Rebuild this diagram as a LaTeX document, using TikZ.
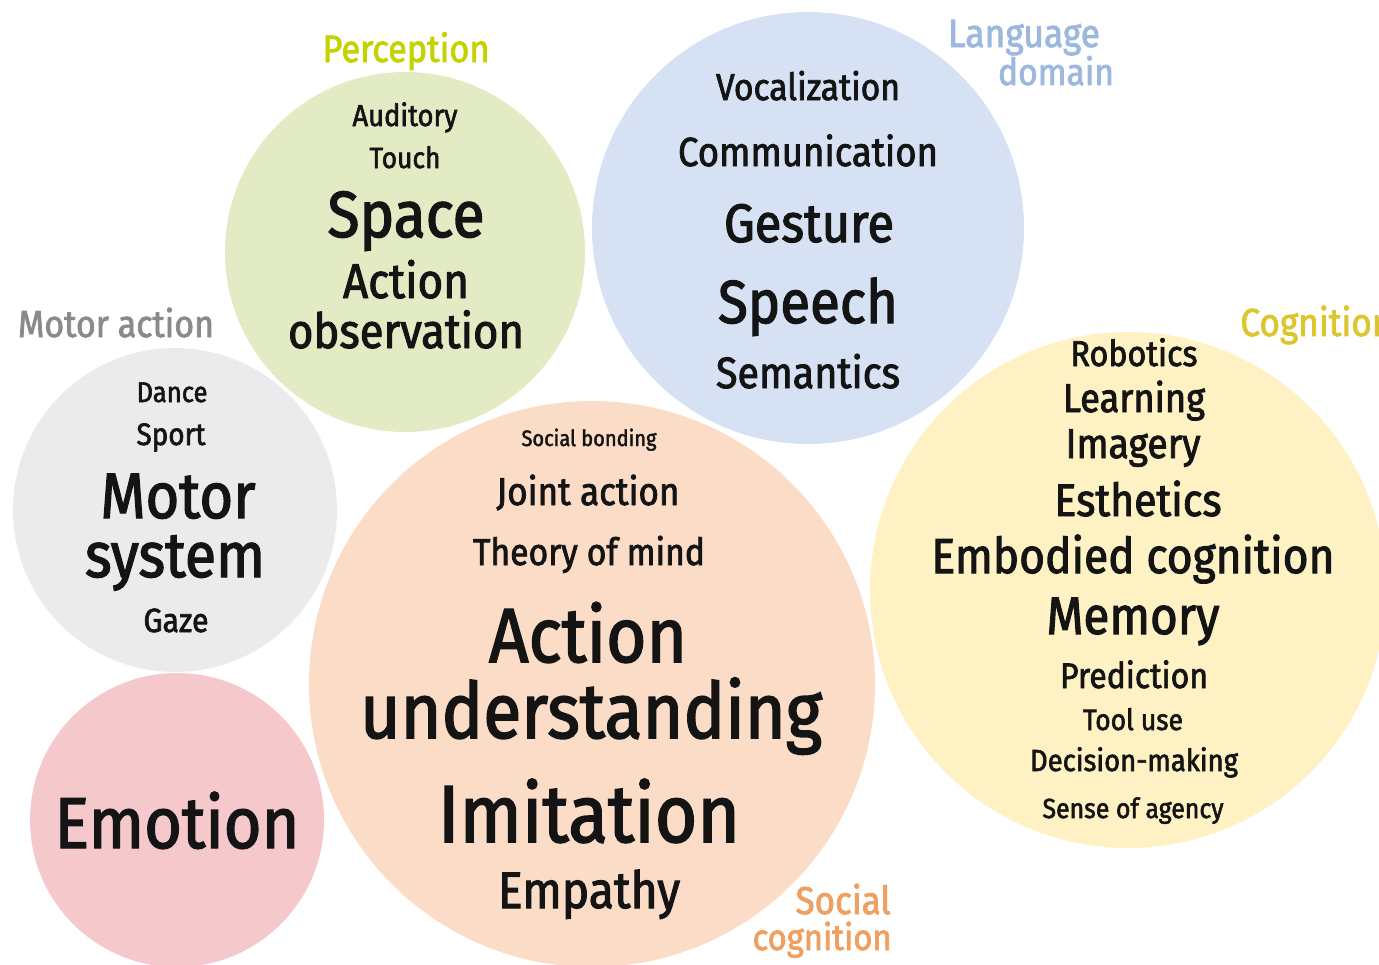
\documentclass[tikz,border=0pt]{standalone}
\usepackage{fontspec}
\setmainfont{Fira Sans}[FakeStretch=0.9, FakeBold=2]

% colours of the bubbles and of their domain labels
\definecolor{percfill}{HTML}{E3EBC4}
\definecolor{perclab}{HTML}{C4D300}
\definecolor{langfill}{HTML}{D6E2F3}
\definecolor{langlab}{HTML}{9DB8DE}
\definecolor{motorfill}{HTML}{EBEBEB}
\definecolor{motorlab}{HTML}{8A8A8A}
\definecolor{emofill}{HTML}{F5C8CC}
\definecolor{socfill}{HTML}{FBDCC6}
\definecolor{soclab}{HTML}{EFA060}
\definecolor{cogfill}{HTML}{FEF2C4}
\definecolor{coglab}{HTML}{DCC62E}
\definecolor{ink}{HTML}{141414}

% set a word at the font size that gives it the wanted width (in drawing units)
\newlength\fitlen
\newcommand\fitw[2]{%
  \settowidth\fitlen{\fontsize{10pt}{12pt}\selectfont #2}%
  \pgfmathsetmacro\fitfs{5*#1/\fitlen}%
  \fontsize{\fitfs pt}{\fitfs pt}\selectfont #2}

\tikzset{
  bub/.style={circle, draw=none, inner sep=0pt},
  word/.style={anchor=base, inner sep=0pt, text=ink},
  tag/.style={anchor=base, inner sep=0pt},
}

\begin{document}
\begin{tikzpicture}[x=0.5pt, y=-0.5pt]
\useasboundingbox (0,0) rectangle (1379,964);
\clip (0,0) rectangle (1379,964);

% bubbles
\node[bub, fill=percfill,  minimum size=180pt] (perc)  at (405,252)  {};
\node[bub, fill=langfill,  minimum size=216pt] (lang)  at (808,228)  {};
\node[bub, fill=motorfill, minimum size=162pt] (motor) at (175,510)  {};
\node[bub, fill=emofill,   minimum size=147pt] (emo)   at (177,820)  {};
\node[bub, fill=socfill,   minimum size=283pt] (soc)   at (592,684)  {};
\node[bub, fill=cogfill,   minimum size=258pt] (cog)   at (1128,590) {};

% perception
\node[tag, text=perclab] (perclabel) at (406,62) {\fitw{167}{Perception}};
\node[word] (auditory) at (405,126) {\fitw{105}{Auditory}};
\node[word] (touch)    at (405,168) {\fitw{71}{Touch}};
\node[word] (space)    at (406,237) {\fitw{157}{Space}};
\node[word] (actobs1)  at (406,298) {\fitw{126}{Action}};
\node[word] (actobs2)  at (406,348) {\fitw{236}{observation}};

% language domain
\node[tag, text=langlab] (langlabel1) at (1024,47) {\fitw{152}{Language}};
\node[tag, text=langlab] (langlabel2) at (1056,85) {\fitw{116}{domain}};
\node[word] (vocal)   at (808,100) {\fitw{184}{Vocalization}};
\node[word] (commun)  at (808,166) {\fitw{260}{Communication}};
\node[word] (gesture) at (809,242) {\fitw{170}{Gesture}};
\node[word] (speech)  at (808,323) {\fitw{180}{Speech}};
\node[word] (semant)  at (808,388) {\fitw{184}{Semantics}};

% motor action
\node[tag, text=motorlab] (motorlabel) at (116,337) {\fitw{196}{Motor action}};
\node[word] (dance)  at (172,402) {\fitw{71}{Dance}};
\node[word] (sport)  at (171,445) {\fitw{69}{Sport}};
\node[word] (motsys1) at (178,518) {\fitw{155}{Motor}};
\node[word] (motsys2) at (175,577) {\fitw{180}{system}};
\node[word] (gaze)   at (176,632) {\fitw{65}{Gaze}};

% emotion
\node[word] (emotion) at (177,848) {\fitw{245}{Emotion}};

% social cognition
\node[word] (bonding) at (589,446) {\fitw{135}{Social bonding}};
\node[word] (joint)   at (588,505) {\fitw{183}{Joint action}};
\node[word] (tom)     at (589,565) {\fitw{232}{Theory of mind}};
\node[word] (actund1) at (588,662) {\fitw{198}{Action}};
\node[word] (actund2) at (591,738) {\fitw{462}{understanding}};
\node[word] (imit)    at (589,842) {\fitw{302}{Imitation}};
\node[word] (empathy) at (589,908) {\fitw{182}{Empathy}};
\node[tag, text=soclab, anchor=base east] (soclabel1) at (891,914) {\fitw{95}{Social}};
\node[tag, text=soclab, anchor=base east] (soclabel2) at (892,950) {\fitw{139}{cognition}};

% cognition
\node[tag, text=coglab, anchor=base west] (coglabel) at (1240,336) {\fitw{152}{Cognition}};
\node[word] (robotics) at (1134,366) {\fitw{127}{Robotics}};
\node[word] (learning) at (1134,412) {\fitw{142}{Learning}};
\node[word] (imagery)  at (1133,458) {\fitw{135}{Imagery}};
\node[word] (esthet)   at (1138,516) {\fitw{167}{Esthetics}};
\node[word] (embodied) at (1133,573) {\fitw{403}{Embodied cognition}};
\node[word] (memory)   at (1133,634) {\fitw{173}{Memory}};
\node[word] (predict)  at (1134,688) {\fitw{148}{Prediction}};
\node[word] (tooluse)  at (1133,730) {\fitw{100}{Tool use}};
\node[word] (decision) at (1134,771) {\fitw{208}{Decision-making}};
\node[word] (agency)   at (1133,818) {\fitw{181}{Sense of agency}};
\end{tikzpicture}
\end{document}
